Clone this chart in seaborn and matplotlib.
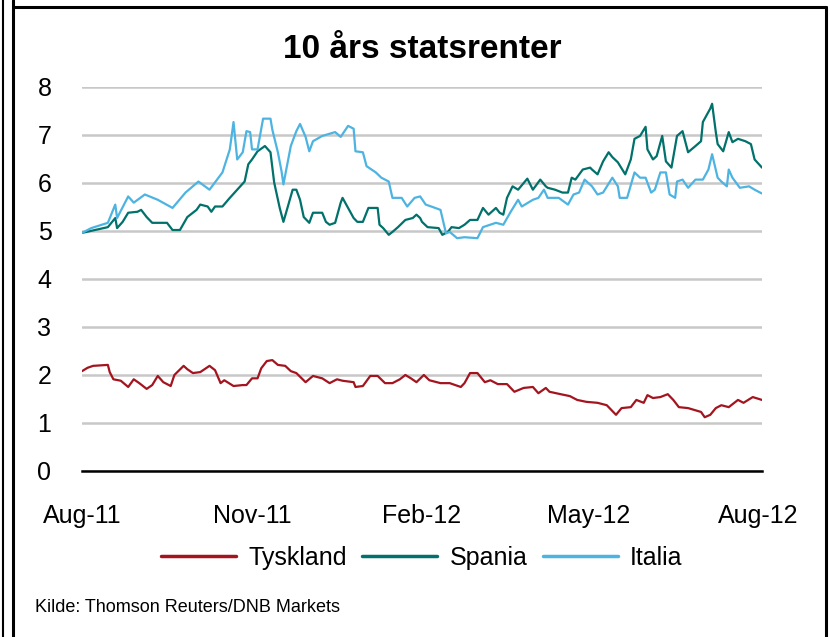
import matplotlib
matplotlib.use('Agg')
import matplotlib.pyplot as plt
import matplotlib.dates as mdates
from matplotlib.lines import Line2D
import seaborn as sns
import pandas as pd

# Dager etter 1. aug 2011 og rente (lest av bildet)
tyskland_dager = [0, 3, 6, 14, 15, 17, 21, 25, 28, 31,
                  35, 38, 41, 44, 48, 50, 55, 57, 60, 64,
                  69, 72, 75, 77, 82, 87, 89, 92, 95, 97,
                  100, 103, 106, 110, 113, 116, 121, 125, 130, 134,
                  138, 141, 147, 148, 152, 156, 160, 164, 168, 172,
                  175, 178, 181, 185, 188, 194, 199, 205, 207, 210,
                  214, 218, 221, 225, 230, 234, 239, 244, 247, 251,
                  253, 259, 264, 268, 273, 279, 284, 289, 292, 297,
                  300, 304, 306, 309, 313, 317, 320, 323, 328, 335,
                  337, 340, 343, 346, 350, 355, 358, 363, 368]
tyskland = [2.07, 2.14, 2.18, 2.20, 2.05, 1.90, 1.87, 1.74, 1.90, 1.82,
            1.70, 1.78, 1.97, 1.84, 1.76, 1.99, 2.18, 2.11, 2.03, 2.05,
            2.18, 2.09, 1.82, 1.88, 1.76, 1.78, 1.78, 1.92, 1.92, 2.13,
            2.28, 2.30, 2.20, 2.18, 2.07, 2.03, 1.84, 1.97, 1.92, 1.82,
            1.90, 1.87, 1.84, 1.74, 1.76, 1.97, 1.97, 1.82, 1.82, 1.90,
            1.99, 1.92, 1.84, 1.99, 1.88, 1.82, 1.82, 1.74, 1.82, 2.03,
            2.03, 1.84, 1.88, 1.80, 1.80, 1.64, 1.72, 1.74, 1.61, 1.72,
            1.64, 1.59, 1.55, 1.47, 1.43, 1.41, 1.36, 1.16, 1.30, 1.32,
            1.47, 1.41, 1.57, 1.51, 1.53, 1.59, 1.47, 1.32, 1.30, 1.22,
            1.11, 1.16, 1.30, 1.36, 1.32, 1.47, 1.41, 1.53, 1.47]

spania_dager = [0, 7, 14, 18, 19, 22, 25, 30, 32, 35,
                38, 46, 49, 53, 57, 62, 64, 68, 70, 72,
                76, 80, 84, 88, 90, 92, 95, 99, 102, 104,
                107, 109, 112, 114, 116, 118, 120, 123, 125, 130,
                132, 134, 137, 140, 141, 144, 147, 149, 152, 155,
                160, 161, 163, 166, 168, 171, 175, 179, 181, 183,
                184, 187, 193, 195, 198, 200, 204, 207, 210, 214,
                217, 220, 224, 226, 228, 230, 233, 236, 241, 244,
                248, 251, 252, 256, 260, 263, 265, 267, 271, 275,
                276, 279, 282, 285, 287, 290, 294, 297, 299, 302,
                305, 306, 309, 311, 314, 316, 319, 322, 325, 328,
                332, 335, 336, 340, 341, 343, 344, 347, 350, 352,
                355, 359, 362, 364, 368]
spania = [4.95, 5.01, 5.07, 5.26, 5.05, 5.18, 5.37, 5.39, 5.43, 5.28,
          5.16, 5.16, 5.01, 5.01, 5.28, 5.43, 5.54, 5.50, 5.39, 5.50,
          5.50, 5.68, 5.85, 6.02, 6.38, 6.48, 6.65, 6.76, 6.63, 6.00,
          5.47, 5.18, 5.58, 5.85, 5.85, 5.64, 5.28, 5.16, 5.37, 5.37,
          5.18, 5.12, 5.16, 5.58, 5.68, 5.47, 5.26, 5.18, 5.18, 5.47,
          5.47, 5.12, 5.05, 4.91, 4.97, 5.07, 5.22, 5.26, 5.33, 5.26,
          5.18, 5.07, 5.05, 4.91, 4.97, 5.07, 5.05, 5.12, 5.22, 5.22,
          5.47, 5.33, 5.47, 5.37, 5.33, 5.68, 5.92, 5.85, 6.08, 5.85,
          6.06, 5.92, 5.89, 5.85, 5.79, 5.79, 6.10, 6.06, 6.27, 6.31,
          6.27, 6.17, 6.44, 6.63, 6.53, 6.42, 6.17, 6.48, 6.91, 6.97,
          7.16, 6.69, 6.48, 6.55, 6.97, 6.44, 6.31, 6.97, 7.07, 6.63,
          6.76, 6.86, 7.26, 7.54, 7.64, 7.05, 6.80, 6.65, 7.05, 6.84,
          6.91, 6.86, 6.80, 6.48, 6.31]

italia_dager = [0, 5, 14, 18, 19, 25, 28, 34, 41, 49,
                56, 63, 69, 76, 80, 82, 84, 87, 89, 91,
                92, 95, 98, 102, 103, 106, 108, 109, 113, 116,
                118, 121, 123, 125, 130, 137, 140, 144, 147, 148,
                152, 154, 159, 162, 166, 168, 173, 176, 180, 183,
                186, 189, 194, 197, 199, 203, 207, 214, 217, 224,
                228, 232, 236, 238, 244, 247, 250, 252, 258, 263,
                266, 269, 272, 276, 279, 282, 287, 290, 291, 295,
                299, 302, 305, 308, 310, 313, 316, 318, 321, 322,
                325, 328, 332, 336, 339, 341, 344, 346, 349, 350,
                352, 356, 361, 364, 368]
italia = [4.95, 5.05, 5.16, 5.54, 5.26, 5.71, 5.58, 5.75, 5.64, 5.47,
          5.79, 6.02, 5.85, 6.21, 6.69, 7.26, 6.48, 6.63, 7.07, 7.05,
          6.69, 6.69, 7.33, 7.33, 7.10, 6.63, 6.23, 5.96, 6.76, 7.07,
          7.22, 6.95, 6.65, 6.86, 6.97, 7.05, 6.95, 7.18, 7.12, 6.65,
          6.63, 6.34, 6.21, 6.10, 6.02, 5.68, 5.68, 5.50, 5.68, 5.71,
          5.54, 5.50, 5.43, 4.94, 4.97, 4.84, 4.86, 4.84, 5.07, 5.16,
          5.12, 5.39, 5.64, 5.50, 5.64, 5.68, 5.85, 5.68, 5.68, 5.54,
          5.75, 5.79, 6.06, 5.92, 5.75, 5.79, 6.10, 5.92, 5.68, 5.68,
          6.21, 6.10, 6.10, 5.79, 5.85, 6.21, 6.21, 5.75, 5.68, 6.02,
          6.06, 5.89, 6.06, 6.06, 6.27, 6.59, 6.10, 6.02, 5.92, 6.27,
          6.10, 5.89, 5.92, 5.85, 5.77]

land = ['Tyskland', 'Spania', 'Italia']
farger = {'Tyskland': '#a3141f', 'Spania': '#00716b', 'Italia': '#4db4e2'}

start = pd.Timestamp('2011-08-01')
deler = []
for navn, dager, rente in zip(land, [tyskland_dager, spania_dager, italia_dager],
                              [tyskland, spania, italia]):
    deler.append(pd.DataFrame({'dato': start + pd.to_timedelta(dager, unit='D'),
                               'rente': rente, 'land': navn}))
df = pd.concat(deler, ignore_index=True)

sns.set_style('white')
plt.rcParams['font.family'] = ['Liberation Sans', 'DejaVu Sans']
plt.rcParams['text.color'] = 'black'

fig = plt.figure(figsize=(8.3, 6.37), dpi=100)
ax = fig.add_axes([82 / 830, 166.5 / 637, 680 / 830, 384 / 637])

sns.lineplot(data=df, x='dato', y='rente', hue='land', palette=farger,
             estimator=None, linewidth=1.6, legend=False, ax=ax)

ax.set_xlim(start, start + pd.Timedelta(days=368))
ax.set_ylim(0, 8)
ax.set_yticks(range(0, 9))
ax.grid(axis='y', color='#c8c8c8', linewidth=1.8)
ax.set_axisbelow(True)
for s in ['top', 'right', 'left']:
    ax.spines[s].set_visible(False)
ax.spines['bottom'].set_color('black')
ax.spines['bottom'].set_linewidth(1.8)
ax.spines['bottom'].set_zorder(3)

ax.xaxis.set_major_locator(mdates.MonthLocator(bymonth=[2, 5, 8, 11]))
ax.xaxis.set_major_formatter(mdates.DateFormatter('%b-%y'))
ax.tick_params(axis='x', direction='in', length=6, width=1.8, pad=24, labelsize=18, colors='black')
ax.tick_params(axis='y', length=0, pad=22, labelsize=18, colors='black')
ax.set_xlabel('')
ax.set_ylabel('')

fig.text(422 / 830, 1 - 50 / 637, '10 års statsrenter', ha='center', va='center',
         fontsize=24, fontweight='bold', color='black')

handles = [Line2D([], [], color=farger[n], linewidth=2.5) for n in land]
fig.legend(handles, land, loc='center', bbox_to_anchor=(422 / 830, 1 - 558 / 637),
           ncol=3, frameon=False, fontsize=18, handlelength=3.0,
           handletextpad=0.5, columnspacing=0.6)

fig.text(35 / 830, 1 - 607 / 637, 'Kilde: Thomson Reuters/DNB Markets',
         ha='left', va='center', fontsize=13, color='black')

# ramme rundt figuren
ramme = [([13, 13], [0, 637], 2.2), ([13, 826], [7, 7], 2.2),
         ([826, 826], [7, 637], 2.2), ([3, 3], [0, 637], 1.5)]
for xs, ys, lw in ramme:
    fig.add_artist(Line2D([x / 830 for x in xs], [1 - y / 637 for y in ys],
                          transform=fig.transFigure, color='black', linewidth=lw))

fig.savefig('out.png', dpi=100)
